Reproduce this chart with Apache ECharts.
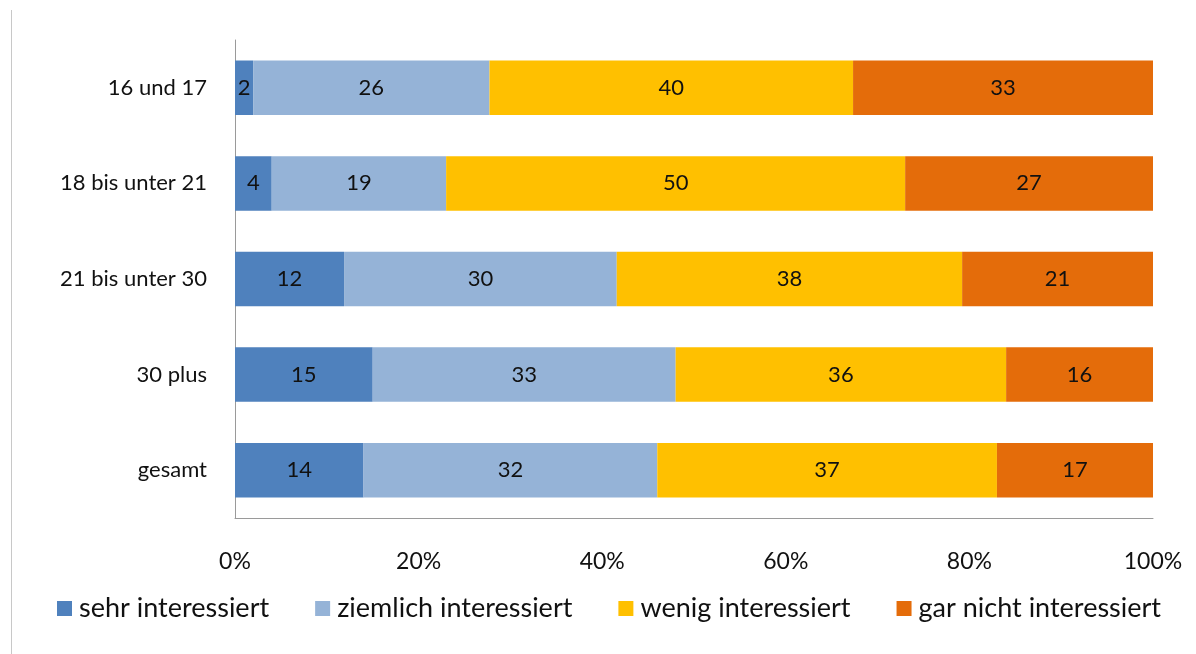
<!DOCTYPE html>
<html><head><meta charset="utf-8">
<script src="https://cdn.jsdelivr.net/npm/echarts@6/dist/echarts.min.js"></script>
<style>html,body{margin:0;padding:0;background:#fff}#c{width:1196px;height:654px}</style>
</head><body><div id="c"></div>
<script>
const categories = ['16 und 17', '18 bis unter 21', '21 bis unter 30', '30 plus', 'gesamt'];
const seriesNames = ['sehr interessiert', 'ziemlich interessiert', 'wenig interessiert', 'gar nicht interessiert'];
const sehr = [2, 4, 12, 15, 14];
const ziemlich = [26, 19, 30, 33, 32];
const wenig = [40, 50, 38, 36, 37];
const garNicht = [33, 27, 21, 16, 17];
const xTicks = ['0%', '20%', '40%', '60%', '80%', '100%'];
const colors = ['#4F81BD', '#95B3D7', '#FFC000', '#E46C0A'];

const raw = [sehr, ziemlich, wenig, garNicht];
const totals = categories.map((_, i) => raw.reduce((s, arr) => s + arr[i], 0));
const FONT = 'Lato';

const chart = echarts.init(document.getElementById('c'));
chart.setOption({
  animation: false,
  textStyle: { fontFamily: FONT },
  graphic: [{ type: 'line', shape: { x1: 11.5, y1: 10, x2: 11.5, y2: 654 }, style: { stroke: '#c8c8c8', lineWidth: 1 } }],
  grid: { left: 235, right: 43, top: 40, bottom: 136, containLabel: false },
  xAxis: {
    type: 'value', min: 0, max: 100, interval: 20,
    axisLine: { show: true, lineStyle: { color: '#9a9a9a', width: 1 } },
    axisTick: { show: false },
    splitLine: { show: false },
    axisLabel: { margin: 32, fontSize: 23, color: '#111', fontFamily: FONT,
      formatter: v => xTicks[Math.round(v / 20)] }
  },
  yAxis: {
    type: 'category', inverse: true, data: categories,
    axisLine: { show: true, lineStyle: { color: '#9a9a9a', width: 1 } },
    axisTick: { show: false },
    axisLabel: { margin: 28, fontSize: 22, color: '#111', fontFamily: FONT }
  },
  legend: {
    bottom: 27, left: 52, itemWidth: 15, itemHeight: 15, itemGap: 46,
    icon: 'rect',
    textStyle: { fontSize: 27, color: '#111', fontFamily: FONT, padding: [0, 0, 0, 2] },
    data: seriesNames
  },
  series: raw.map((arr, k) => ({
    name: seriesNames[k], type: 'bar', stack: 'total', barWidth: '57%',
    itemStyle: { color: colors[k] },
    data: arr.map((v, i) => ({ value: v * 100 / totals[i] })),
    label: { show: true, position: 'inside', fontSize: 22, color: '#111', fontFamily: FONT,
      formatter: p => String(arr[p.dataIndex]) }
  }))
});
</script></body></html>
